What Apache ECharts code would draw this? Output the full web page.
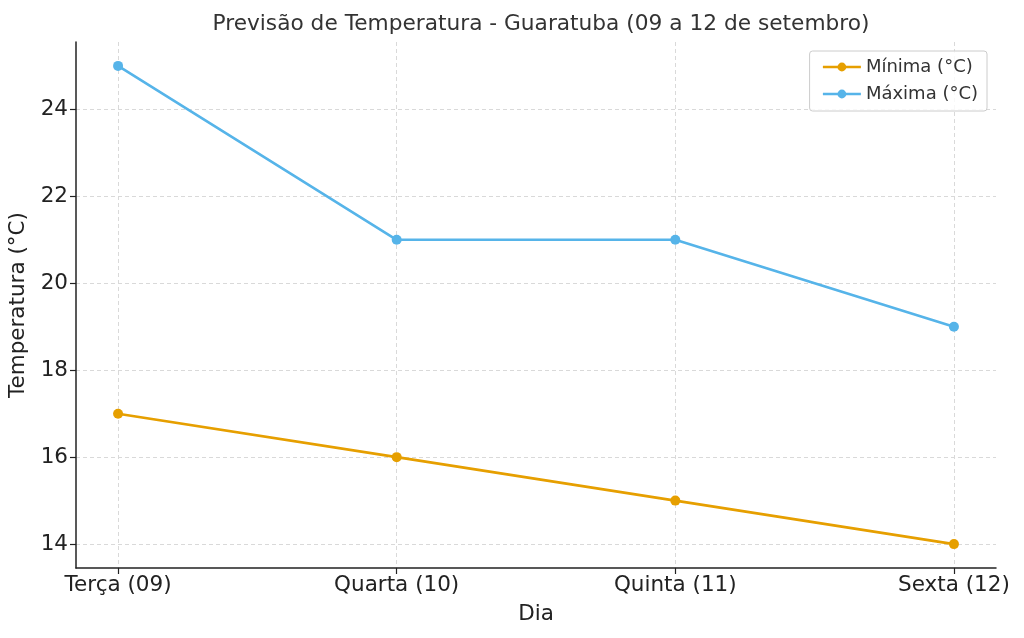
<!DOCTYPE html>
<html>
<head>
<meta charset="utf-8">
<script src="https://cdn.jsdelivr.net/npm/echarts@6/dist/echarts.min.js"></script>
<style>
  html, body { margin: 0; padding: 0; background: #fff; }
  #chart { width: 1024px; height: 638px; }
</style>
</head>
<body>
<div id="chart"></div>
<script>
const days = ['Terça (09)', 'Quarta (10)', 'Quinta (11)', 'Sexta (12)'];
const minTemps = [17, 16, 15, 14];
const maxTemps = [25, 21, 21, 19];
const yTicks = [14, 16, 18, 20, 22, 24];

const font = 'DejaVu Sans';
const chart = echarts.init(document.getElementById('chart'));

// x as value axis so the category points sit in from the edges like the original
const xTicks = days.map((d, i) => i);
const pairs = (vals) => vals.map((v, i) => [i, v]);

chart.setOption({
  backgroundColor: '#fff',
  animation: false,
  textStyle: { fontFamily: font },
  title: {
    text: 'Previsão de Temperatura - Guaratuba (09 a 12 de setembro)',
    left: 536, top: 8, textAlign: 'center',
    textStyle: { fontFamily: font, fontSize: 21.7, fontWeight: 'normal', color: '#333' }
  },
  legend: {
    right: 37, top: 51, orient: 'vertical',
    itemWidth: 38, itemHeight: 11, itemGap: 9,
    padding: [7, 9, 8, 12],
    borderColor: '#ccc', borderWidth: 1, borderRadius: 3,
    backgroundColor: 'rgba(255,255,255,0.8)',
    lineStyle: { width: 2.6 },
    textStyle: { fontFamily: font, fontSize: 18, color: '#333' },
    data: ['Mínima (°C)', 'Máxima (°C)']
  },
  grid: { left: 76, right: 28, top: 42, bottom: 70, outerBoundsMode: 'none', containLabel: false },
  xAxis: {
    type: 'value', min: -0.151, max: 3.151,
    name: 'Dia', nameLocation: 'middle', nameGap: 35,
    nameTextStyle: { fontFamily: font, fontSize: 21.5, color: '#222' },
    axisLine: { onZero: false, lineStyle: { color: '#222', width: 1.5 } },
    axisTick: { show: true, customValues: xTicks, length: 6, lineStyle: { color: '#222', width: 1.2 } },
    axisLabel: {
      customValues: xTicks, margin: 6,
      fontFamily: font, fontSize: 21.5, color: '#222',
      formatter: (v) => days[Math.round(v)] || ''
    },
    splitLine: { show: true, lineStyle: { color: '#d9d9d9', type: [4, 3] } }
  },
  yAxis: {
    type: 'value', min: 13.45, max: 25.55,
    name: 'Temperatura (°C)', nameLocation: 'middle', nameGap: 40,
    nameTextStyle: { fontFamily: font, fontSize: 21.5, color: '#222' },
    axisLine: { show: true, onZero: false, lineStyle: { color: '#222', width: 1.5 } },
    axisTick: { show: true, customValues: yTicks, length: 6, lineStyle: { color: '#222', width: 1.2 } },
    axisLabel: {
      customValues: yTicks, margin: 8,
      fontFamily: font, fontSize: 21.5, color: '#222'
    },
    splitLine: { show: true, lineStyle: { color: '#d9d9d9', type: [4, 3] } }
  },
  series: [
    {
      name: 'Mínima (°C)', type: 'line', data: pairs(minTemps),
      color: '#E69F00', symbol: 'circle', symbolSize: 10,
      lineStyle: { width: 2.6 }
    },
    {
      name: 'Máxima (°C)', type: 'line', data: pairs(maxTemps),
      color: '#56B4E9', symbol: 'circle', symbolSize: 10,
      lineStyle: { width: 2.6 }
    }
  ]
});
</script>
</body>
</html>
